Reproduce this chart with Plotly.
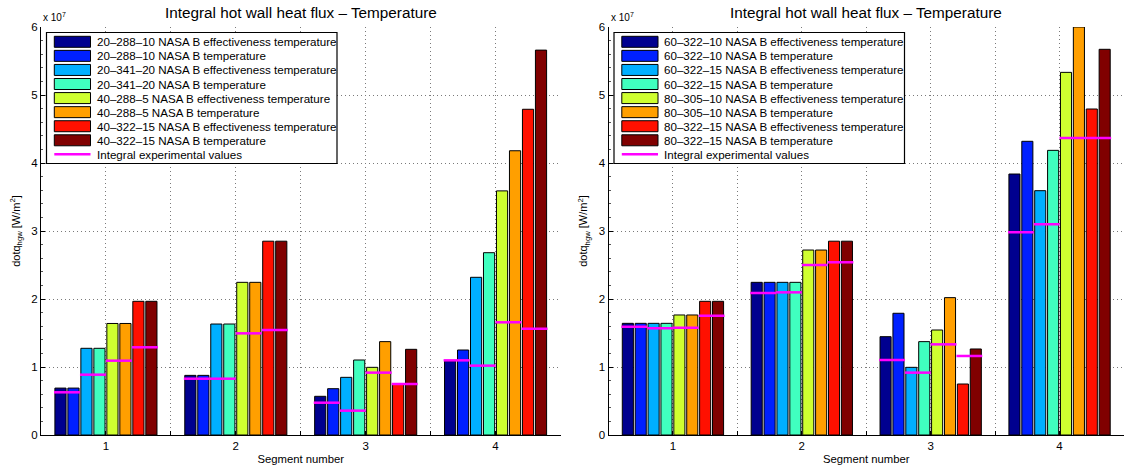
import plotly.graph_objects as go

# Segment numbers on the x axis
segments = [1, 2, 3, 4]

# Left panel: bar series (W/m^2), one value per segment
left_names = [
    "20\u2013288\u201310 NASA B effectiveness temperature",
    "20\u2013288\u201310 NASA B temperature",
    "20\u2013341\u201320 NASA B effectiveness temperature",
    "20\u2013341\u201320 NASA B temperature",
    "40\u2013288\u20135 NASA B effectiveness temperature",
    "40\u2013288\u20135 NASA B temperature",
    "40\u2013322\u201315 NASA B effectiveness temperature",
    "40\u2013322\u201315 NASA B temperature",
]
left_20_288_10_eff = [0.690e7, 0.877e7, 0.569e7, 1.090e7]
left_20_288_10_tmp = [0.690e7, 0.877e7, 0.681e7, 1.250e7]
left_20_341_20_eff = [1.275e7, 1.632e7, 0.848e7, 2.319e7]
left_20_341_20_tmp = [1.275e7, 1.632e7, 1.103e7, 2.681e7]
left_40_288_5_eff = [1.640e7, 2.245e7, 0.995e7, 3.590e7]
left_40_288_5_tmp = [1.640e7, 2.245e7, 1.373e7, 4.180e7]
left_40_322_15_eff = [1.966e7, 2.850e7, 0.750e7, 4.790e7]
left_40_322_15_tmp = [1.966e7, 2.850e7, 1.260e7, 5.660e7]

# Left panel: integral experimental values, one per test case and segment
left_exp_20_288_10 = [0.628e7, 0.828e7, 0.475e7, 1.098e7]
left_exp_20_341_20 = [0.887e7, 0.828e7, 0.358e7, 1.020e7]
left_exp_40_288_5 = [1.093e7, 1.495e7, 0.917e7, 1.657e7]
left_exp_40_322_15 = [1.290e7, 1.544e7, 0.750e7, 1.564e7]

# Right panel: bar series (W/m^2)
right_names = [
    "60\u2013322\u201310 NASA B effectiveness temperature",
    "60\u2013322\u201310 NASA B temperature",
    "60\u2013322\u201315 NASA B effectiveness temperature",
    "60\u2013322\u201315 NASA B temperature",
    "80\u2013305\u201310 NASA B effectiveness temperature",
    "80\u2013305\u201310 NASA B temperature",
    "80\u2013322\u201315 NASA B effectiveness temperature",
    "80\u2013322\u201315 NASA B temperature",
]
right_60_322_10_eff = [1.642e7, 2.245e7, 1.446e7, 3.838e7]
right_60_322_10_tmp = [1.642e7, 2.245e7, 1.790e7, 4.319e7]
right_60_322_15_eff = [1.642e7, 2.245e7, 0.995e7, 3.593e7]
right_60_322_15_tmp = [1.642e7, 2.245e7, 1.373e7, 4.186e7]
right_80_305_10_eff = [1.765e7, 2.720e7, 1.544e7, 5.333e7]
right_80_305_10_tmp = [1.765e7, 2.720e7, 2.020e7, 6.000e7]
right_80_322_15_eff = [1.966e7, 2.850e7, 0.750e7, 4.794e7]
right_80_322_15_tmp = [1.966e7, 2.850e7, 1.265e7, 5.672e7]

right_exp_60_322_10 = [1.593e7, 2.088e7, 1.103e7, 2.980e7]
right_exp_60_322_15 = [1.569e7, 2.098e7, 0.917e7, 3.098e7]
right_exp_80_305_10 = [1.578e7, 2.500e7, 1.333e7, 4.367e7]
right_exp_80_322_15 = [1.755e7, 2.540e7, 1.162e7, 4.367e7]

exp_name = "Integral experimental values"

# Y tick labels (axis scaled by 10^7)
y_tick_values = [0, 1e7, 2e7, 3e7, 4e7, 5e7, 6e7]
y_tick_labels = ["0", "1", "2", "3", "4", "5", "6"]

left_series = [left_20_288_10_eff, left_20_288_10_tmp, left_20_341_20_eff, left_20_341_20_tmp,
               left_40_288_5_eff, left_40_288_5_tmp, left_40_322_15_eff, left_40_322_15_tmp]
left_exp = [left_exp_20_288_10, left_exp_20_341_20, left_exp_40_288_5, left_exp_40_322_15]
right_series = [right_60_322_10_eff, right_60_322_10_tmp, right_60_322_15_eff, right_60_322_15_tmp,
                right_80_305_10_eff, right_80_305_10_tmp, right_80_322_15_eff, right_80_322_15_tmp]
right_exp = [right_exp_60_322_10, right_exp_60_322_15, right_exp_80_305_10, right_exp_80_322_15]

# jet-like colour sequence
colors = ["#00008F", "#0020FF", "#00AFFF", "#40FFBF", "#CFFF30", "#FF9F00", "#FF1000", "#800000"]
magenta = "#FF00FF"

FONT = "Liberation Sans, Arial, Helvetica, sans-serif"
GROUP_WIDTH = 0.8
N_BARS = 8
SLOT = GROUP_WIDTH / N_BARS
BAR_WIDTH = SLOT * 0.86

# Figure / plot-area geometry in pixels
W, H = 1124, 470
TOP, BOTTOM = 27, 35
PLOT_H = H - TOP - BOTTOM
left_px = (41, 560.5)
right_px = (608.5, W)
left_dom = [left_px[0] / W, left_px[1] / W]
right_dom = [right_px[0] / W, right_px[1] / W]

fig = go.Figure()


def add_panel(series, exp, xaxis, yaxis):
    for i, vals in enumerate(series):
        fig.add_trace(go.Bar(
            x=segments, y=vals, showlegend=False,
            offset=-GROUP_WIDTH / 2 + i * SLOT + (SLOT - BAR_WIDTH) / 2,
            width=BAR_WIDTH,
            marker=dict(color=colors[i], line=dict(color="black", width=1)),
            xaxis=xaxis, yaxis=yaxis,
        ))
    xs, ys = [], []
    for k, vals in enumerate(exp):
        for g, v in zip(segments, vals):
            x0 = g - GROUP_WIDTH / 2 + 2 * k * SLOT
            xs += [x0, x0 + 2 * SLOT, None]
            ys += [v, v, None]
    fig.add_trace(go.Scatter(
        x=xs, y=ys, mode="lines", showlegend=False,
        line=dict(color=magenta, width=2.5),
        xaxis=xaxis, yaxis=yaxis,
    ))


add_panel(left_series, left_exp, "x", "y")
add_panel(right_series, right_exp, "x2", "y2")


# Boxed legend in the upper-left corner of a panel
def px_x(px):
    return px / W


def px_y(py):
    return 1 - (py - TOP) / PLOT_H


def add_legend(axis_left, names):
    box_l, box_r = axis_left + 5.5, axis_left + 296
    box_t, box_b = 32.5, 163.5
    fig.add_shape(type="rect", xref="paper", yref="paper",
                  x0=px_x(box_l), x1=px_x(box_r), y0=px_y(box_b), y1=px_y(box_t),
                  line=dict(color="black", width=1.2), fillcolor="white", layer="above")
    row0, step = 41.8, 14.07
    sw_l, sw_r = axis_left + 13.3, axis_left + 49.5
    entries = [(n, colors[i]) for i, n in enumerate(names)] + [(exp_name, None)]
    for i, (name, col) in enumerate(entries):
        cy = row0 + i * step
        if col is not None:
            fig.add_shape(type="rect", xref="paper", yref="paper",
                          x0=px_x(sw_l), x1=px_x(sw_r), y0=px_y(cy + 5.5), y1=px_y(cy - 5.5),
                          line=dict(color="black", width=1), fillcolor=col, layer="above")
        else:
            fig.add_shape(type="line", xref="paper", yref="paper",
                          x0=px_x(sw_l), x1=px_x(sw_r), y0=px_y(cy), y1=px_y(cy),
                          line=dict(color=magenta, width=2.5), layer="above")
        fig.add_annotation(text=name, xref="paper", yref="paper",
                           x=px_x(axis_left + 53.5), y=px_y(cy),
                           xanchor="left", yanchor="middle", showarrow=False,
                           font=dict(size=11.6, color="black", family=FONT))


add_legend(left_px[0], left_names)
add_legend(right_px[0], right_names)

x_ticks = [1, 1.5, 2, 2.5, 3, 3.5, 4, 4.5]
x_labels = ["1", "", "2", "", "3", "", "4", ""]
GRID = dict(showgrid=True, gridcolor="#7a7a7a", griddash="1px,3px", gridwidth=1)

xaxis_common = dict(
    range=[0.5, 4.5], tickmode="array", tickvals=x_ticks, ticktext=x_labels,
    ticks="inside", ticklen=4, tickcolor="black", **GRID,
    showline=True, linecolor="black", linewidth=1, mirror=False,
    zeroline=False, tickfont=dict(size=11.5, color="black", family=FONT),
    title=dict(text="Segment number", font=dict(size=11.3, color="black", family=FONT), standoff=4),
)
yaxis_common = dict(
    range=[0, 6e7], tickmode="array", tickvals=y_tick_values, ticktext=y_tick_labels,
    ticks="inside", ticklen=4, tickcolor="black",
    minor=dict(ticks="inside", ticklen=2, dtick=2e6, tickcolor="#555", showgrid=False),
    **GRID,
    showline=True, linecolor="black", linewidth=1, mirror=False,
    zeroline=False, tickfont=dict(size=11.5, color="black", family=FONT),
    title=dict(text="dotq<sub>hgw</sub> [W/m<sup>2</sup>]",
               font=dict(size=11, color="black", family=FONT), standoff=8),
)

fig.update_layout(
    width=W, height=H,
    margin=dict(l=0, r=0, t=TOP, b=BOTTOM),
    paper_bgcolor="white", plot_bgcolor="white",
    barmode="overlay", showlegend=False,
    font=dict(family=FONT, color="black"),
    xaxis=dict(domain=left_dom, anchor="y", **xaxis_common),
    yaxis=dict(domain=[0, 1], anchor="x", **yaxis_common),
    xaxis2=dict(domain=right_dom, anchor="y2", **xaxis_common),
    yaxis2=dict(domain=[0, 1], anchor="x2", **yaxis_common),
)

title_text = "Integral hot wall heat flux \u2013 Temperature"
for dom in (left_dom, right_dom):
    fig.add_annotation(
        text=title_text, xref="paper", yref="paper",
        x=(dom[0] + dom[1]) / 2, y=1, yshift=4,
        xanchor="center", yanchor="bottom", showarrow=False,
        font=dict(size=15.3, color="black", family=FONT),
    )

for xr in ("x domain", "x2 domain"):
    fig.add_annotation(
        text="x 10<sup>7</sup>", xref=xr, yref="paper", x=0, y=1, yshift=2,
        xanchor="left", yanchor="bottom", showarrow=False,
        font=dict(size=10, color="black", family=FONT),
    )

fig.write_html("out.html")
